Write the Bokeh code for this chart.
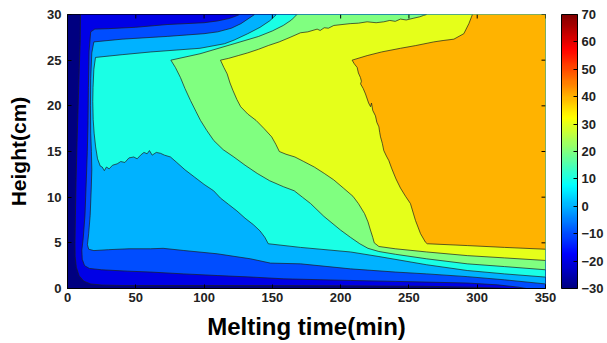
import math
from bokeh.plotting import figure
from bokeh.models import Range1d, FixedTicker, ColorBar, LinearColorMapper
from bokeh.embed import file_html
from bokeh.resources import INLINE

# ---------------- data ----------------
time_range = [0, 350]          # min
height_range = [0, 30]         # cm
x_ticks = [0, 50, 100, 150, 200, 250, 300, 350]
y_ticks = [0, 5, 10, 15, 20, 25, 30]
cbar_ticks = [-30, -20, -10, 0, 10, 20, 30, 40, 50, 60, 70]
cbar_low, cbar_high = -30, 70
levels = [-30, -20, -10, 0, 10, 20, 30, 40]

# contour lines (time min, height cm), each from one plot edge to another
lvl_m20_t = [9.5, 9.3, 8.6, 7.8, 7.0, 6.3, 5.8, 5.5, 5.6, 6.5, 8.5, 12.0, 17.0, 25.0, 40.0, 70.0, 100.0,
             150.0, 200.0, 260.0, 295.0, 315.0, 322.0]
lvl_m20_h = [30, 27, 24, 20, 16, 12, 8, 5, 3.5, 2.3, 1.4, 0.8, 0.5, 0.38, 0.33, 0.33, 0.33,
             0.32, 0.3, 0.25, 0.15, 0.05, 0]

lvl_m10_t = [126, 122, 118, 110, 100, 73, 50, 30, 20, 17.0, 15.8, 15.3, 15.0, 14.5, 13.8, 12.8, 11.5,
             10.5, 10.8, 12.5, 16, 25, 44, 60.8, 85, 109.6, 135, 158.4, 207.2, 240, 263, 292.7, 315, 330, 336]
lvl_m10_h = [30, 29.75, 29.55, 29.3, 29.1, 28.9, 28.6, 28.45, 28.4, 28.1, 26, 22, 18, 15, 12, 8, 5.5,
             4.2, 3.2, 2.5, 2.2, 2.05, 1.9, 1.8, 1.6, 1.42, 1.25, 1.06, 0.88, 0.78, 0.7, 0.6, 0.4, 0.15, 0]

lvl_0_t = [137, 133, 127, 120, 110, 100, 73, 40, 19.3, 17.8, 17.0, 16.8, 17.0, 17.5, 17.8, 17.4, 16.6,
           15.5, 14.6, 15.5, 19.3, 30, 45, 60.8, 70, 85.2, 109.6, 134, 148.6, 170.6, 207.2, 240, 263,
           292.7, 320, 350]
lvl_0_h = [30, 29.6, 29.0, 28.5, 28.1, 27.9, 27.6, 27.3, 27.0, 25.8, 23, 20, 17, 15, 13, 11, 8,
           6, 4.8, 4.3, 4.15, 4.25, 4.35, 4.35, 4.4, 4.16, 3.8, 3.25, 2.78, 2.7, 2.15, 1.8, 1.6,
           1.3, 0.95, 0.5]

lvl_10_t = [153, 148, 141, 132, 122, 115, 97, 61, 40, 20.5, 19.3, 18.7, 18.5, 18.8, 19.5, 20.6, 22, 24,
            25.4, 27, 28.5, 30.5, 33, 36.4, 39, 42, 45, 48.5, 51, 53.5, 56, 58.3, 60, 62, 65, 68.1, 71,
            75.4, 80, 86, 93, 100, 107, 112, 118, 124, 130, 136, 141, 144.5, 147, 170.6, 207.2, 228,
            263, 292.7, 320, 350]
lvl_10_h = [30, 29.3, 28.6, 27.9, 27.2, 26.8, 26.3, 25.9, 25.6, 25.3, 24, 22, 20.5, 18.5, 17, 15.5, 14.2,
            13.4, 13.3, 12.9, 13.3, 13.1, 13.5, 13.65, 13.9, 13.8, 14.3, 14.4, 14.2, 14.6, 14.9, 14.75,
            15.1, 14.6, 14.9, 14.8, 14.6, 14.4, 13.8, 13.0, 12.2, 11.4, 10.7, 9.9, 9.2, 8.5, 7.7, 7.0,
            6.3, 5.6, 4.9, 4.5, 4.0, 3.5, 2.6, 1.97, 1.6, 1.25]

lvl_20_t = [168, 164, 158, 150, 140, 122, 97, 75.7, 79, 82.7, 86, 90, 94, 97.4, 102, 107.1, 114, 121.8,
            130, 138.9, 148, 158, 166, 172, 178, 187.7, 199.9, 207.2, 214, 220, 228, 240, 263, 292.7,
            320, 350]
lvl_20_h = [30, 29.4, 28.8, 28.2, 27.6, 26.8, 25.7, 25.0, 24.2, 23.1, 21.9, 20.6, 19.4, 18.4, 17.3, 16.2,
            15.2, 14.4, 13.5, 12.6, 11.8, 11.15, 10.7, 10.0, 9.3, 7.9, 6.4, 5.6, 4.9, 4.4, 4.05, 3.75,
            3.25, 2.7, 2.4, 2.05]

lvl_30_t = [263, 260.7, 258, 253.6, 248, 243.8, 240, 236, 231.6, 226, 219.4, 213, 207, 201, 195, 191,
            188, 185, 182.8, 176, 170.6, 163, 155, 147, 140, 132, 125, 118, 112, 114.5, 116.9, 119,
            121.1, 124, 126.8, 132, 138.1, 144, 149.5, 152.5, 155.1, 160, 166.5, 173, 180.7, 188,
            194.9, 202, 209, 213, 217.5, 220, 221.8, 223.5, 224.6, 228, 240, 263, 292.7, 320, 350]
lvl_30_h = [30, 29.9, 29.75, 29.6, 29.4, 29.5, 29.25, 29.35, 29.2, 29.1, 29.2, 29.05, 29.0, 28.9, 28.8,
            28.5, 28.55, 28.25, 28.4, 28.1, 28.0, 27.5, 27.0, 26.6, 26.2, 25.8, 25.5, 25.2, 25.0, 24.2,
            23.5, 22.5, 21.7, 20.7, 19.9, 19.1, 18.4, 17.5, 16.6, 15.8, 15.0, 14.7, 14.4, 13.9, 13.3,
            12.6, 11.9, 11.0, 10.1, 9.3, 8.2, 7.3, 6.4, 5.6, 5.0, 4.6, 4.35, 4.0, 3.6, 3.35, 3.07]

lvl_40_t = [296.5, 293.9, 290.2, 282.9, 275, 268.2, 255, 243.8, 230, 219.4, 208.4, 210, 212.1, 213,
            214.5, 215.2, 214.6, 216.5, 218.2, 220.5, 221.9, 222.6, 223.5, 225.5, 226.5, 228, 228.6,
            229.2, 230.5, 231.6, 233.5, 235.3, 237.5, 240.5, 243.8, 247.5, 251.1, 254.8, 258.5, 262.1,
            263.4, 292.7, 320, 350]
lvl_40_h = [30, 29.0, 27.9, 27.3, 27.15, 27.0, 26.6, 26.3, 25.9, 25.5, 25.0, 24.6, 24.2, 23.6, 23.1,
            22.7, 22.4, 21.9, 21.3, 20.3, 19.9, 20.3, 19.5, 18.9, 18.2, 17.7, 17.1, 16.6, 15.9, 15.1,
            14.5, 14.0, 13.1, 12.0, 11.0, 10.1, 9.3, 7.45, 6.0, 5.07, 4.9, 4.7, 4.5, 4.3]

contours = {
    -20: (lvl_m20_t, lvl_m20_h),
    -10: (lvl_m10_t, lvl_m10_h),
    0: (lvl_0_t, lvl_0_h),
    10: (lvl_10_t, lvl_10_h),
    20: (lvl_20_t, lvl_20_h),
    30: (lvl_30_t, lvl_30_h),
    40: (lvl_40_t, lvl_40_h),
}


# ---------------- jet colour map ----------------
def _clip(v):
    return max(0.0, min(1.0, v))


def jet_hex(f):
    r = _clip(1.5 - abs(4 * f - 3))
    g = _clip(1.5 - abs(4 * f - 2))
    b = _clip(1.5 - abs(4 * f - 1))
    return "#%02x%02x%02x" % (round(r * 255), round(g * 255), round(b * 255))


jet_palette = [jet_hex(i / 255) for i in range(256)]


def level_color(lv):
    return jet_hex((lv - cbar_low) / (cbar_high - cbar_low))


t0, t1 = time_range
h0, h1 = height_range

# filled regions: each superlevel set painted over the previous one
xs = [[t0, t1, t1, t0]]
ys = [[h0, h0, h1, h1]]
fills = [level_color(levels[0])]
for lv in levels[1:]:
    t, h = contours[lv]
    px, py = list(t), list(h)
    if py[-1] == h0:
        px += [t1, t1]
        py += [h0, h1]
    else:
        px += [t1]
        py += [h1]
    xs.append(px)
    ys.append(py)
    fills.append(level_color(lv))

p = figure(width=607, height=343, x_range=Range1d(t0, t1), y_range=Range1d(h0, h1),
           output_backend="svg", toolbar_location=None,
           min_border_left=67, min_border_right=62, min_border_top=14, min_border_bottom=55,
           background_fill_color="white", border_fill_color="white")

p.patches(xs, ys, fill_color=fills, line_color=None)
p.multi_line([list(contours[lv][0]) for lv in levels[1:]],
             [list(contours[lv][1]) for lv in levels[1:]],
             line_color="#1e1e1e", line_width=0.7)

# inward ticks on the top and right sides of the box
p.ray(x=x_ticks, y=[h1] * len(x_ticks), length=4, angle=-math.pi / 2,
      length_units="screen", line_color="black", line_width=1)
p.ray(x=[t1] * len(y_ticks), y=y_ticks, length=4, angle=math.pi,
      length_units="screen", line_color="black", line_width=1)

p.xgrid.visible = False
p.ygrid.visible = False
p.outline_line_color = "black"
p.outline_line_width = 1

FONT = "Liberation Sans"
for ax in (p.xaxis[0], p.yaxis[0]):
    ax.major_tick_in = 4
    ax.major_tick_out = 0
    ax.minor_tick_line_color = None
    ax.axis_line_color = "black"
    ax.major_label_text_font = FONT
    ax.major_label_text_font_size = "13px"
    ax.major_label_text_font_style = "bold"
    ax.major_label_text_color = "#222222"
    ax.axis_label_text_font = FONT
    ax.axis_label_text_font_style = "bold"
    ax.axis_label_text_color = "black"

p.xaxis[0].ticker = FixedTicker(ticks=x_ticks)
p.yaxis[0].ticker = FixedTicker(ticks=y_ticks)
p.xaxis[0].axis_label = "Melting time(min)"
p.xaxis[0].axis_label_text_font_size = "24px"
p.xaxis[0].major_label_standoff = 4
p.xaxis[0].axis_label_standoff = 8
p.yaxis[0].axis_label = "Height(cm)"
p.yaxis[0].axis_label_text_font_size = "21px"
p.yaxis[0].major_label_standoff = 6
p.yaxis[0].axis_label_standoff = 14

mapper = LinearColorMapper(palette=jet_palette, low=cbar_low, high=cbar_high)
cb = ColorBar(color_mapper=mapper, ticker=FixedTicker(ticks=cbar_ticks), width=16, height=274,
              padding=0, margin=0, location=(16, 0), label_standoff=4,
              major_label_text_font=FONT, major_label_text_font_size="13px",
              major_label_text_font_style="bold", major_label_text_color="#222222",
              major_tick_line_color="black", major_tick_in=4, major_tick_out=0,
              minor_tick_line_color=None, bar_line_color="black",
              background_fill_color=None, border_line_color=None)
p.add_layout(cb, "right")

open("out.html", "w").write(file_html(p, INLINE))
